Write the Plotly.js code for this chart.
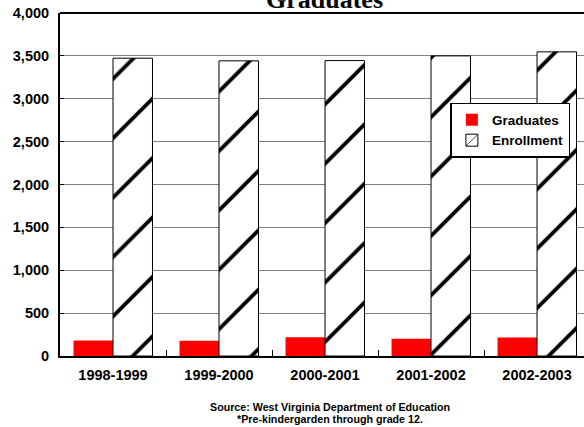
<!DOCTYPE html>
<html>
<head>
<meta charset="utf-8">
<script src="https://cdn.plot.ly/plotly-3.0.1.min.js"></script>
<style>html,body{margin:0;padding:0;background:#fff;}#chart{width:584px;height:427px;}</style>
</head>
<body>
<div id="chart"></div>
<script>
const categories = ["1998-1999", "1999-2000", "2000-2001", "2001-2002", "2002-2003"];
const graduates = [181, 177, 219, 200, 216];
const enrollment = [3473, 3442, 3445, 3500, 3547];
const yTicks = [0, 500, 1000, 1500, 2000, 2500, 3000, 3500, 4000];
const titleText = "Graduates";
const sourceLines = ["Source: West Virginia Department of Education", "*Pre-kindergarden through grade 12."];

const font = "Liberation Sans, Arial, sans-serif";

const traces = [
  {
    type: "bar", name: "Graduates", x: categories, y: graduates,
    marker: {color: "#ff0000", line: {width: 0}}
  },
  {
    type: "bar", name: "Enrollment", x: categories, y: enrollment,
    marker: {
      color: "#ffffff",
      line: {color: "#000000", width: 1},
      pattern: {shape: "/", size: 42, solidity: 0.09, fgcolor: "#000000", bgcolor: "#ffffff", fillmode: "replace"}
    }
  }
];

const layout = {
  width: 584, height: 427,
  margin: {l: 60, r: 0, t: 13, b: 71, pad: 0},
  paper_bgcolor: "#ffffff", plot_bgcolor: "#ffffff",
  barmode: "group", bargap: 0.255, bargroupgap: 0,
  showlegend: true,
  font: {family: font, color: "#000000"},
  xaxis: {
    type: "category", range: [-0.5, 4.443], fixedrange: true,
    showline: true, linecolor: "#000000", linewidth: 2, mirror: false,
    showgrid: false, ticks: "inside", tickson: "boundaries", ticklen: 6, tickcolor: "#000000", tickwidth: 1,
    tickfont: {family: font, size: 14.5, color: "#000000", weight: "bold"},
    ticklabelstandoff: 5
  },
  yaxis: {
    range: [0, 4000], tickvals: yTicks, tickformat: ",d", fixedrange: true,
    showline: true, linecolor: "#000000", linewidth: 2,
    showgrid: true, gridcolor: "#7f7f7f", gridwidth: 1, zeroline: false,
    ticks: "inside", ticklen: 4, tickcolor: "#000000",
    tickfont: {family: font, size: 14.5, color: "#000000", weight: "bold"},
    ticklabelstandoff: 6
  },
  legend: {
    x: 0.745, xanchor: "left", y: 0.738, yanchor: "top",
    bgcolor: "#ffffff", bordercolor: "#000000", borderwidth: 1.5,
    font: {family: font, size: 13.5, color: "#000000", weight: "bold"},
    tracegroupgap: 0
  },
  shapes: [
    {type: "line", xref: "paper", yref: "paper", x0: 0, x1: 1, y0: 1, y1: 1, line: {color: "#000000", width: 2}}
  ],
  annotations: [
    {text: "<b>" + titleText + "</b>", xref: "paper", yref: "paper", x: 0.504, y: 1.04, xanchor: "center", yanchor: "middle",
     showarrow: false, font: {family: "Liberation Serif, Times New Roman, serif", size: 26, color: "#000000"}},
    {text: "<b>" + sourceLines[0] + "</b>", xref: "paper", yref: "paper", x: (330 - 60) / 524, y: -(407 - 356) / 343,
     xanchor: "center", yanchor: "middle", showarrow: false, font: {family: font, size: 10.7, color: "#000000"}},
    {text: "<b>" + sourceLines[1] + "</b>", xref: "paper", yref: "paper", x: (330 - 60) / 524, y: -(419 - 356) / 343,
     xanchor: "center", yanchor: "middle", showarrow: false, font: {family: font, size: 10.7, color: "#000000"}}
  ]
};

Plotly.newPlot("chart", traces, layout, {displayModeBar: false, staticPlot: true});
</script>
</body>
</html>
